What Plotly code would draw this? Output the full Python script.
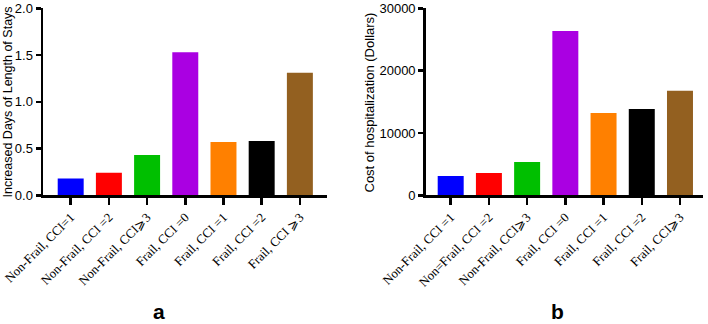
import plotly.graph_objects as go

cats_a = ["Non-Frail, CCI=1", "Non-Frail, CCI =2", "Non-Frail, CCI⩾3", "Frail, CCI =0",
          "Frail, CCI =1", "Frail, CCI =2", "Frail, CCI ⩾3"]
cats_b = ["Non-Frail, CCI =1", "Non=Frail, CCI =2", "Non-Frail, CCI⩾3", "Frail, CCI =0",
          "Frail, CCI =1", "Frail, CCI =2", "Frail, CCI⩾3"]
los_days = [0.18, 0.24, 0.43, 1.53, 0.57, 0.58, 1.31]
cost_dollars = [3100, 3580, 5340, 26360, 13200, 13840, 16780]
colors = ["#0000FF", "#FF0000", "#00BF00", "#AA00E2", "#FF8000", "#000000", "#936020"]
ytick_a = [0.0, 0.5, 1.0, 1.5, 2.0]
ytick_a_text = ["0.0", "0.5", "1.0", "1.5", "2.0"]
ytick_b = [0, 10000, 20000, 30000]

W, H = 708, 324

fig = go.Figure()
fig.add_trace(go.Bar(x=list(range(7)), y=los_days, marker=dict(color=colors, line=dict(width=0)),
                     width=0.68, xaxis="x", yaxis="y", showlegend=False, hoverinfo="skip"))
fig.add_trace(go.Bar(x=list(range(7)), y=cost_dollars, marker=dict(color=colors, line=dict(width=0)),
                     width=0.68, xaxis="x2", yaxis="y2", showlegend=False, hoverinfo="skip"))

ydom = [(H - 195.3) / H, (H - 8.3) / H]
axis_common = dict(showline=True, linecolor="black", linewidth=2.5, showgrid=False, zeroline=False,
                   ticks="outside", tickcolor="black", tickwidth=2.5, automargin=False,
                   ticklabeloverflow="allow")
xfont = dict(family="Liberation Serif, Times New Roman, serif", size=12.8, color="black")
yfont = dict(family="Liberation Sans, Arial, sans-serif", size=13, color="black")

fig.update_layout(
    template="none",
    width=W, height=H, margin=dict(l=0, r=0, t=0, b=0, pad=0),
    paper_bgcolor="white", plot_bgcolor="white",
    xaxis=dict(domain=[43 / W, 327 / W], range=[-0.725, 6.71], tickmode="array",
               tickvals=list(range(7)), ticktext=cats_a, tickangle=-45, ticklen=7,
               tickfont=xfont, anchor="y", **axis_common),
    yaxis=dict(domain=ydom, range=[0, 2.0], tickmode="array", tickvals=ytick_a,
               ticktext=ytick_a_text, ticklen=5, tickfont=yfont, anchor="x", **axis_common),
    xaxis2=dict(domain=[425.7 / W, 703.3 / W], range=[-0.654, 6.61], tickmode="array",
                tickvals=list(range(7)), ticktext=cats_b, tickangle=-45, ticklen=7,
                tickfont=xfont, anchor="y2", **axis_common),
    yaxis2=dict(domain=ydom, range=[0, 30000], tickmode="array", tickvals=ytick_b,
                ticktext=[str(v) for v in ytick_b], ticklen=5, tickfont=yfont, anchor="x2",
                **axis_common),
    bargap=0.32,
)

title_font = dict(family="Liberation Sans, Arial, sans-serif", size=12.5, color="black")
fig.add_annotation(text="Increased Days of Length of Stays", textangle=-90, x=7.5 / W, y=(H - 102) / H,
                   xref="paper", yref="paper", xanchor="center", yanchor="middle",
                   showarrow=False, font=title_font)
fig.add_annotation(text="Cost of hospitalization (Dollars)", textangle=-90, x=369.5 / W, y=(H - 103) / H,
                   xref="paper", yref="paper", xanchor="center", yanchor="middle",
                   showarrow=False, font=dict(title_font, size=13))
lab_font = dict(family="Liberation Sans, Arial, sans-serif", size=21, color="black")
fig.add_annotation(text="<b>a</b>", x=158.7 / W, y=(H - 311) / H, xref="paper", yref="paper",
                   xanchor="center", yanchor="middle", showarrow=False, font=lab_font)
fig.add_annotation(text="<b>b</b>", x=557 / W, y=(H - 311) / H, xref="paper", yref="paper",
                   xanchor="center", yanchor="middle", showarrow=False, font=lab_font)

fig.write_html("out.html", config={"displayModeBar": False, "staticPlot": True},
               post_script="document.body.style.margin='0';document.body.style.overflow='hidden';")
